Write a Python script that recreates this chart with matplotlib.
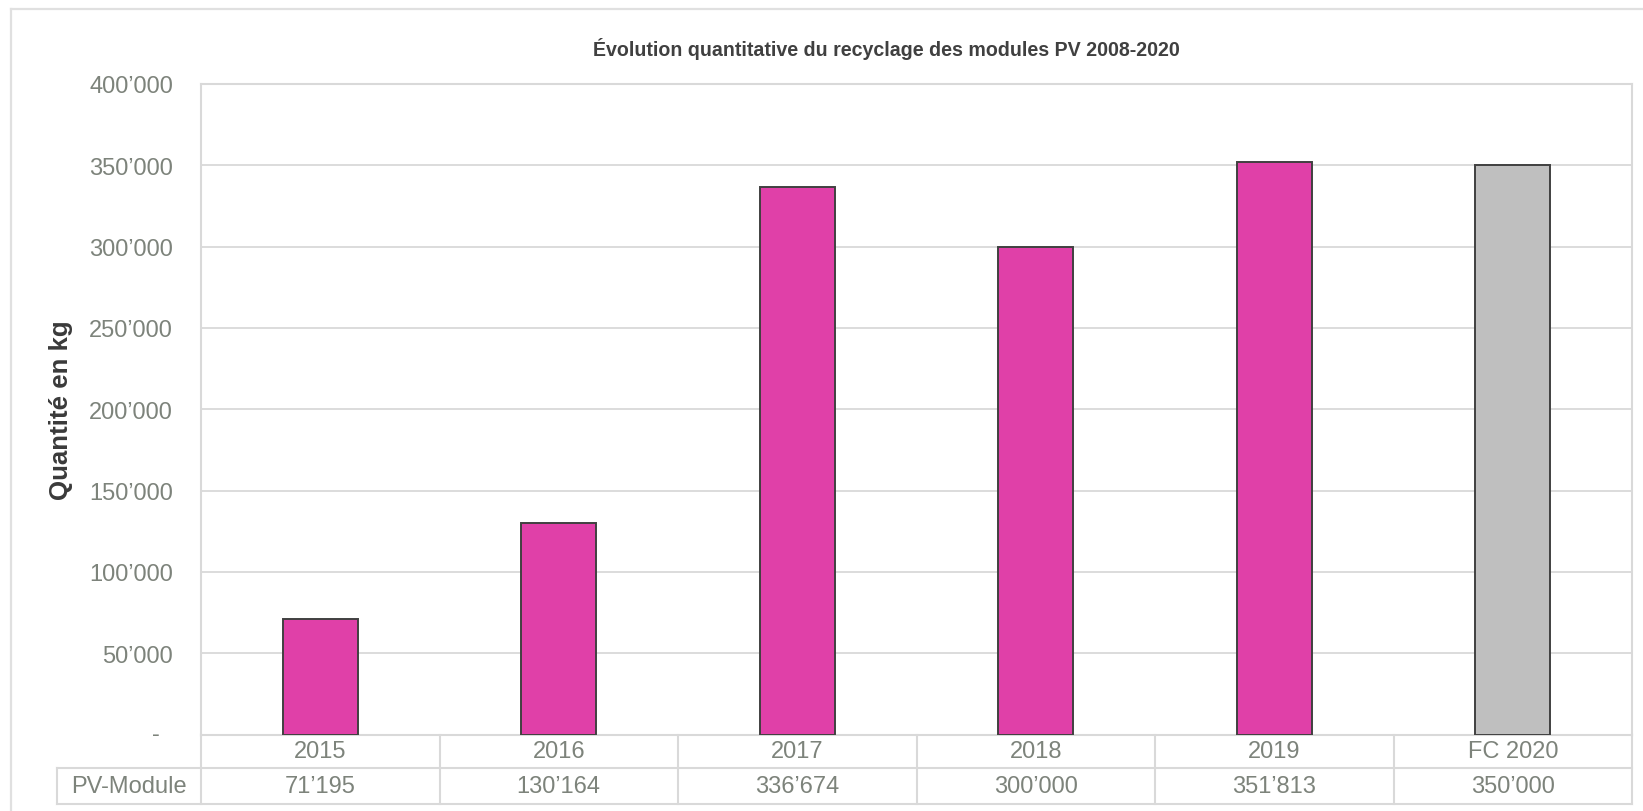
import matplotlib
matplotlib.use("Agg")
import matplotlib.pyplot as plt
from matplotlib.lines import Line2D
from matplotlib.transforms import blended_transform_factory

categories = ["2015", "2016", "2017", "2018", "2019", "FC 2020"]
values = [71195, 130164, 336674, 300000, 351813, 350000]
value_labels = ["71’195", "130’164", "336’674", "300’000", "351’813", "350’000"]
row_label = "PV-Module"
yticks = [0, 50000, 100000, 150000, 200000, 250000, 300000, 350000, 400000]
ytick_labels = ["", "50’000", "100’000", "150’000", "200’000", "250’000", "300’000", "350’000", "400’000"]
title = "Évolution quantitative du recyclage des modules PV 2008-2020"
ylabel = "Quantité en kg"

PINK = "#E040A8"
GREY_BAR = "#BFBFBF"
EDGE = "#404040"
LINE = "#D9D9D9"
TXT = "#7D837B"

plt.rcParams['font.family'] = ['Liberation Sans', 'DejaVu Sans']

W, H = 1643, 812
fig = plt.figure(figsize=(W / 100, H / 100), dpi=100)
L, R, T, B = 201, 1632, 85, 735.5
ax = fig.add_axes([L / W, 1 - B / H, (R - L) / W, (B - T) / H])

n = len(categories)
x = list(range(n))
colors = [PINK] * (n - 1) + [GREY_BAR]
ax.bar(x, values, width=0.316, color=colors, edgecolor=EDGE, linewidth=1.4, zorder=3)

ax.set_xlim(-0.5, n - 0.5)
ax.set_ylim(0, 400000)
ax.set_yticks(yticks)
ax.set_yticklabels(ytick_labels)
ax.tick_params(axis='y', length=0, pad=20, labelsize=17, labelcolor=TXT)
ax.set_xticks([])
ax.grid(axis='y', color=LINE, linewidth=1.3, zorder=0)
for s in ax.spines.values():
    s.set_color(LINE)
    s.set_linewidth(1.5)

aw = R - L
ah = B - T

# zero label "-"
ax.text(-41 / aw, 0, "-", transform=blended_transform_factory(ax.transAxes, ax.transData),
        ha='right', va='center', fontsize=17, color=TXT)

ax.set_ylabel(ylabel, fontsize=18.6, fontweight='bold', color="#3A3A3A")
ax.yaxis.set_label_coords((73 - L) / aw, 0.5)

t = fig.text(886 / W, 1 - 49 / H, title, ha='center', va='center', fontsize=12.5,
             fontweight='bold', color="#404040")
fig.canvas.draw()
wpx = t.get_window_extent().width
t.set_fontsize(12.5 * 591 / wpx)

# data table below the axis
r1 = -(769 - B) / ah
r2 = -(805 - B) / ah
xl = (57 - L) / aw
tr = blended_transform_factory(ax.transData, ax.transAxes)
for i, c in enumerate(categories):
    ax.text(i, r1 / 2, c, transform=tr, ha='center', va='center', fontsize=17, color=TXT, clip_on=False)
    ax.text(i, (r1 + r2) / 2, value_labels[i], transform=tr, ha='center', va='center',
            fontsize=17, color=TXT, clip_on=False)
ax.text(xl / 2, (r1 + r2) / 2, row_label, transform=ax.transAxes, ha='center', va='center',
        fontsize=17, color=TXT, clip_on=False)

lines = []
for k in range(n + 1):
    xa = k / n
    lines.append(([xa, xa], [0, r2]))
lines.append(([xl, 1], [r1, r1]))
lines.append(([xl, 1], [r2, r2]))
lines.append(([xl, xl], [r1, r2]))
for xs, ys in lines:
    ax.add_line(Line2D(xs, ys, transform=ax.transAxes, color=LINE, linewidth=1.5, clip_on=False))

# outer frame (left and top edges visible)
fig.add_artist(Line2D([11 / W, 11 / W], [0, 1 - 9.5 / H], transform=fig.transFigure,
                      color="#E0E0E0", linewidth=1.6))
fig.add_artist(Line2D([11 / W, 1], [1 - 9.5 / H, 1 - 9.5 / H], transform=fig.transFigure,
                      color="#E0E0E0", linewidth=1.6))

fig.savefig("out.png", dpi=100)
